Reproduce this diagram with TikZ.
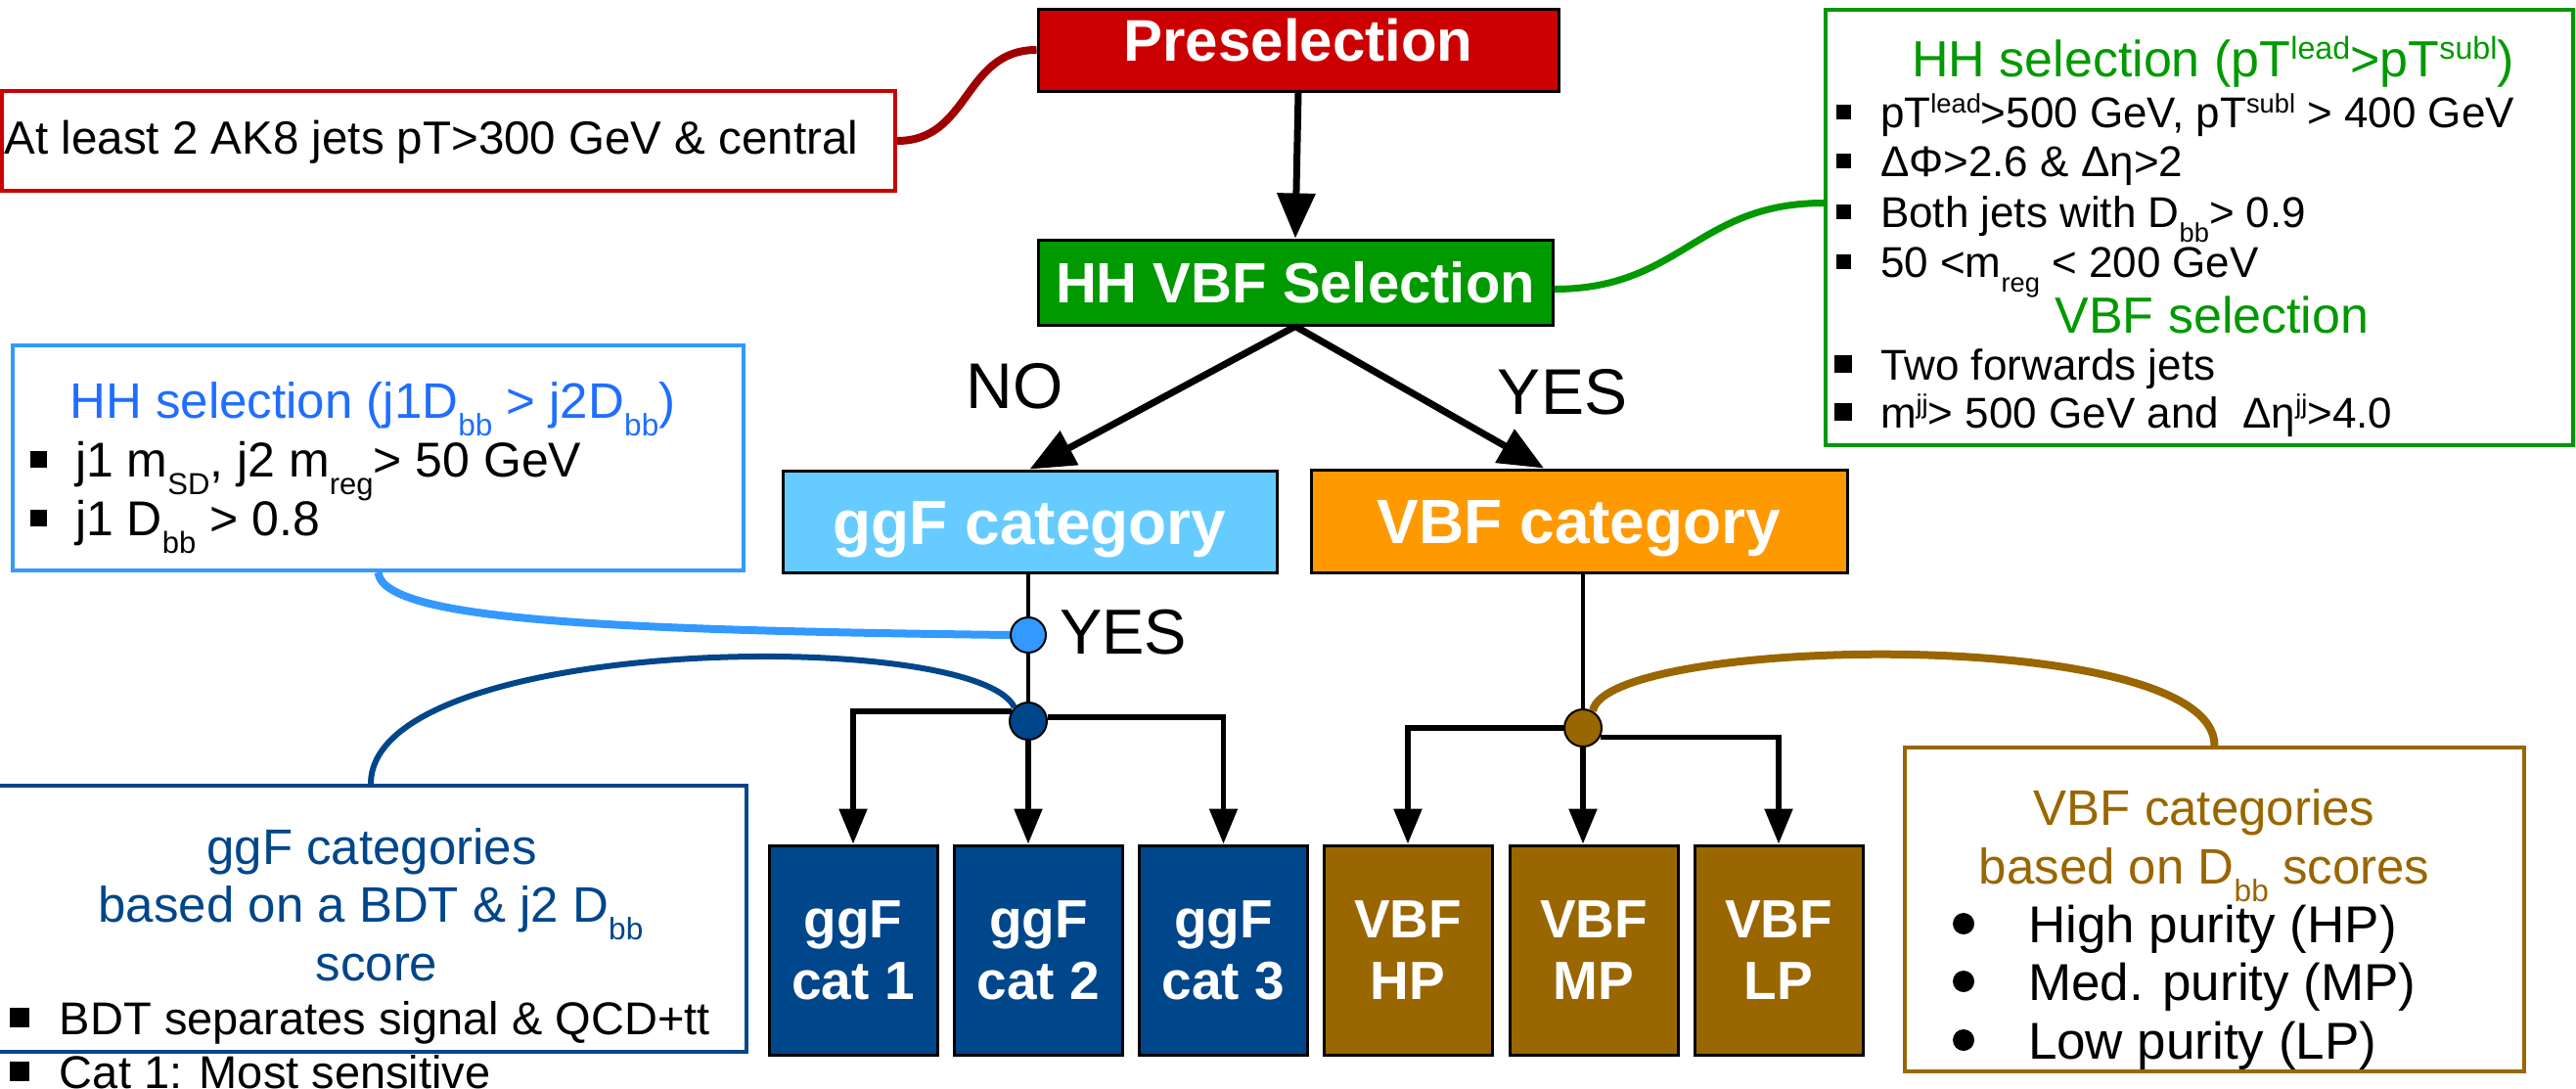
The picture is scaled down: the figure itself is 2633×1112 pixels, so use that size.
\documentclass[tikz,border=0pt]{standalone}
\usepackage{fontspec}
\setmainfont{Liberation Sans}
\usetikzlibrary{arrows.meta}
\definecolor{cRed}{HTML}{CC0000}
\definecolor{cDarkRed}{HTML}{A00000}
\definecolor{cGreen}{HTML}{009900}
\definecolor{cLBlue}{HTML}{66CCFF}
\definecolor{cOrange}{HTML}{FF9900}
\definecolor{cDBlue}{HTML}{00468B}
\definecolor{cBrown}{HTML}{996600}
\definecolor{cSky}{HTML}{3399FF}
\definecolor{cTitleBlue}{HTML}{1F6EFF}
\newcommand{\fsz}[1]{\fontsize{#1pt}{#1pt}\selectfont}
\newcommand{\hightxt}[1]{\raisebox{0.34em}{\scalebox{0.62}{#1}}}
\newcommand{\lowtxt}[1]{\raisebox{-0.36em}{\scalebox{0.62}{#1}}}
\newcommand{\bsq}[3]{\makebox[#1][l]{\rule[#2]{#3}{#3}}}
\begin{document}
\begin{tikzpicture}[x=1pt,y=-1pt,
  fbox/.style={draw=black, line width=3pt, text=white, inner sep=0pt},
  nbox/.style={fill=white, line width=4pt, inner sep=0pt},
  txt/.style={inner sep=0pt, outer sep=0pt},
  catbox/.style={fbox, minimum width=172pt, minimum height=214pt, align=center, font=\fontsize{55pt}{63pt}\selectfont\bfseries},
  dot/.style={circle, draw=black, line width=2pt, inner sep=0pt},
  bigarrow/.style={line width=7pt, -{Triangle[length=46pt,width=38pt]}},
  thinline/.style={line width=4pt},
  catarrow/.style={line width=5.5pt, -{Triangle[length=36pt,width=28pt]}},
  link/.style={line width=8pt}]
\useasboundingbox (0,0) rectangle (2633,1112);

% ---- annotation boxes
\node[nbox, draw=cRed, minimum width=913pt, minimum height=102pt] (prenote) at (458.5,144) {};
\node[txt, anchor=base, font=\fsz{47.5}] (prenotetxt) at (441,157) {At least 2 AK8 jets pT>300 GeV \& central};

\node[nbox, draw=cGreen, minimum width=764pt, minimum height=445pt] (gbox) at (2248,232.5) {};
\node[txt, anchor=base, font=\fsz{52}, text=cGreen] (g0) at (2262,78) {HH selection (pT\hightxt{lead}>pT\hightxt{subl})};
\node[txt, anchor=base west, font=\fsz{44}] (g1) at (1877,130) {\bsq{45pt}{8pt}{15pt}pT\hightxt{lead}>500 GeV, pT\hightxt{subl} > 400 GeV};
\node[txt, anchor=base west, font=\fsz{44}] (g2) at (1877,180) {\bsq{45pt}{8pt}{15pt}ΔΦ>2.6 \& Δη>2};
\node[txt, anchor=base west, font=\fsz{44}] (g3) at (1877,232) {\bsq{45pt}{8pt}{15pt}Both jets with D\lowtxt{bb}> 0.9};
\node[txt, anchor=base west, font=\fsz{44}] (g4) at (1877,283) {\bsq{45pt}{8pt}{15pt}50 <m\lowtxt{reg} < 200 GeV};
\node[txt, anchor=base, font=\fsz{52}, text=cGreen] (g5) at (2261,340) {VBF selection};
\node[txt, anchor=base west, font=\fsz{44}] (g6) at (1875,388) {\bsq{47pt}{7pt}{18pt}Two forwards jets};
\node[txt, anchor=base west, font=\fsz{44}] (g7) at (1875,437) {\bsq{47pt}{7pt}{18pt}m\hightxt{jj}> 500 GeV and \ Δη\hightxt{jj}>4.0};

\node[nbox, draw=cSky, minimum width=747pt, minimum height=230pt] (bbox) at (386.5,468) {};
\node[txt, anchor=base, font=\fsz{51}, text=cTitleBlue] (t0) at (381,427) {HH selection (j1D\lowtxt{bb} > j2D\lowtxt{bb})};
\node[txt, anchor=base west, font=\fsz{50}] (t1) at (31,487) {\bsq{46pt}{9.5pt}{17pt}j1 m\lowtxt{SD}, j2 m\lowtxt{reg}> 50 GeV};
\node[txt, anchor=base west, font=\fsz{50}] (t2) at (31,547) {\bsq{46pt}{9.5pt}{17pt}j1 D\lowtxt{bb} > 0.8};

\node[nbox, draw=cDBlue, line width=3.5pt, minimum width=768pt, minimum height=272pt] (gnote) at (379,939) {};
\node[txt, anchor=base, font=\fsz{51}, text=cDBlue] (n0) at (380,883) {ggF categories};
\node[txt, anchor=base, font=\fsz{51}, text=cDBlue] (n1) at (379,942) {based on a BDT \& j2 D\lowtxt{bb}};
\node[txt, anchor=base, font=\fsz{51}, text=cDBlue] (n2) at (385,1002) {score};
\node[txt, anchor=base west, font=\fsz{47}] (n3) at (10,1057) {\bsq{51pt}{7pt}{20pt}BDT separates signal \& QCD+tt};
\node[txt, anchor=base west, font=\fsz{47}] (n4) at (10,1112) {\bsq{51pt}{7pt}{20pt}Cat 1: Most sensitive};

\node[nbox, draw=cBrown, minimum width=633pt, minimum height=331pt] (bnote) at (2263.5,929.5) {};
\node[txt, anchor=base, font=\fsz{51}, text=cBrown] (b0) at (2253,843) {VBF categories};
\node[txt, anchor=base, font=\fsz{51}, text=cBrown] (b1) at (2253,903) {based on D\lowtxt{bb} scores};
\node[circle, fill=black, inner sep=0pt, minimum size=22pt] (bd1) at (2007,944) {};
\node[circle, fill=black, inner sep=0pt, minimum size=22pt] (bd2) at (2007,1003) {};
\node[circle, fill=black, inner sep=0pt, minimum size=22pt] (bd3) at (2007,1063) {};
\node[txt, anchor=base west, font=\fsz{53}] (b2) at (2073,963) {High purity (HP)};
\node[txt, anchor=base west, font=\fsz{53}] (b3) at (2073,1022) {Med. purity (MP)};
\node[txt, anchor=base west, font=\fsz{53}] (b4) at (2073,1082) {Low purity (LP)};

% ---- flow boxes
\node[fbox, fill=cRed, minimum width=532pt, minimum height=84pt, text height=43pt, text depth=20pt, font=\fsz{60}\bfseries] (pre) at (1327,51) {Preselection};
\node[fbox, fill=cGreen, minimum width=526pt, minimum height=87pt, text height=41.5pt, text depth=0pt, font=\fsz{58}\bfseries] (hh) at (1324,288.5) {HH VBF Selection};
\node[fbox, fill=cLBlue, minimum width=505pt, minimum height=104pt, text height=46pt, text depth=0pt, font=\fsz{64}\bfseries] (ggfcat) at (1052.5,533) {ggF category};
\node[fbox, fill=cOrange, minimum width=548pt, minimum height=105pt, text height=46pt, text depth=0pt, font=\fsz{64}\bfseries] (vbfcat) at (1614,532.5) {VBF category};

\node[catbox, fill=cDBlue] (k1) at (872,971) {ggF\\cat 1};
\node[catbox, fill=cDBlue] (k2) at (1061.5,971) {ggF\\cat 2};
\node[catbox, fill=cDBlue] (k3) at (1250.5,971) {ggF\\cat 3};
\node[catbox, fill=cBrown] (v1) at (1439,971) {VBF\\HP};
\node[catbox, fill=cBrown] (v2) at (1629,971) {VBF\\MP};
\node[catbox, fill=cBrown] (v3) at (1818,971) {VBF\\LP};

\node[dot, fill=cSky, minimum size=36pt] (c1) at (1051,649) {};
\node[dot, fill=cDBlue, minimum size=38pt] (c2) at (1051,737) {};
\node[dot, fill=cBrown, minimum size=38pt] (c3) at (1618,744) {};

% ---- labels
\node[txt, anchor=base, font=\fsz{66}] (nolbl) at (1037,417) {NO};
\node[txt, anchor=base, font=\fsz{66}] (yeslbl) at (1597,423) {YES};
\node[txt, anchor=base west, font=\fsz{65}] (yes2lbl) at (1083,668) {YES};

% ---- connectors
\draw[bigarrow] (pre.south) -- (hh.north);
\draw[bigarrow] (hh.south) -- (ggfcat.north);
\draw[bigarrow] (hh.south) -- ([xshift=-36pt]vbfcat.north);

\draw[thinline] (c1.north |- ggfcat.south) -- (c1.north);
\draw[thinline] (c1.south) -- (c2.north);
\draw[catarrow] (c2.south) -- (c2.south |- k2.north);
\draw[catarrow] (c2.150) -| (k1.north);
\draw[catarrow] (c2.12) -| (k3.north);

\draw[thinline] (c3.north |- vbfcat.south) -- (c3.north);
\draw[catarrow] (c3.south) -- (c3.south |- v2.north);
\draw[catarrow] (c3.west) -| (v1.north);
\draw[catarrow] (c3.-28) -| (v3.north);

\draw[link, cDarkRed] (prenote.east) .. controls +(75,0) and +(-75,0) .. (pre.west);
\draw[link, line width=7pt, cGreen] ([yshift=-7pt]hh.east) .. controls +(130,0) and +(-130,0) .. ([yshift=25pt]gbox.west);
\draw[link, cSky] (bbox.south) .. controls +(5,50) and +(-400,-5) .. (c1.west);
\draw[link, line width=6pt, cDBlue] (gnote.north) .. controls +(0,-153) and +(-40,-82) .. (c2.135);
\draw[link, cBrown] (c3.60) .. controls +(13,-77) and +(0,-124) .. (bnote.north);
\end{tikzpicture}
\end{document}
